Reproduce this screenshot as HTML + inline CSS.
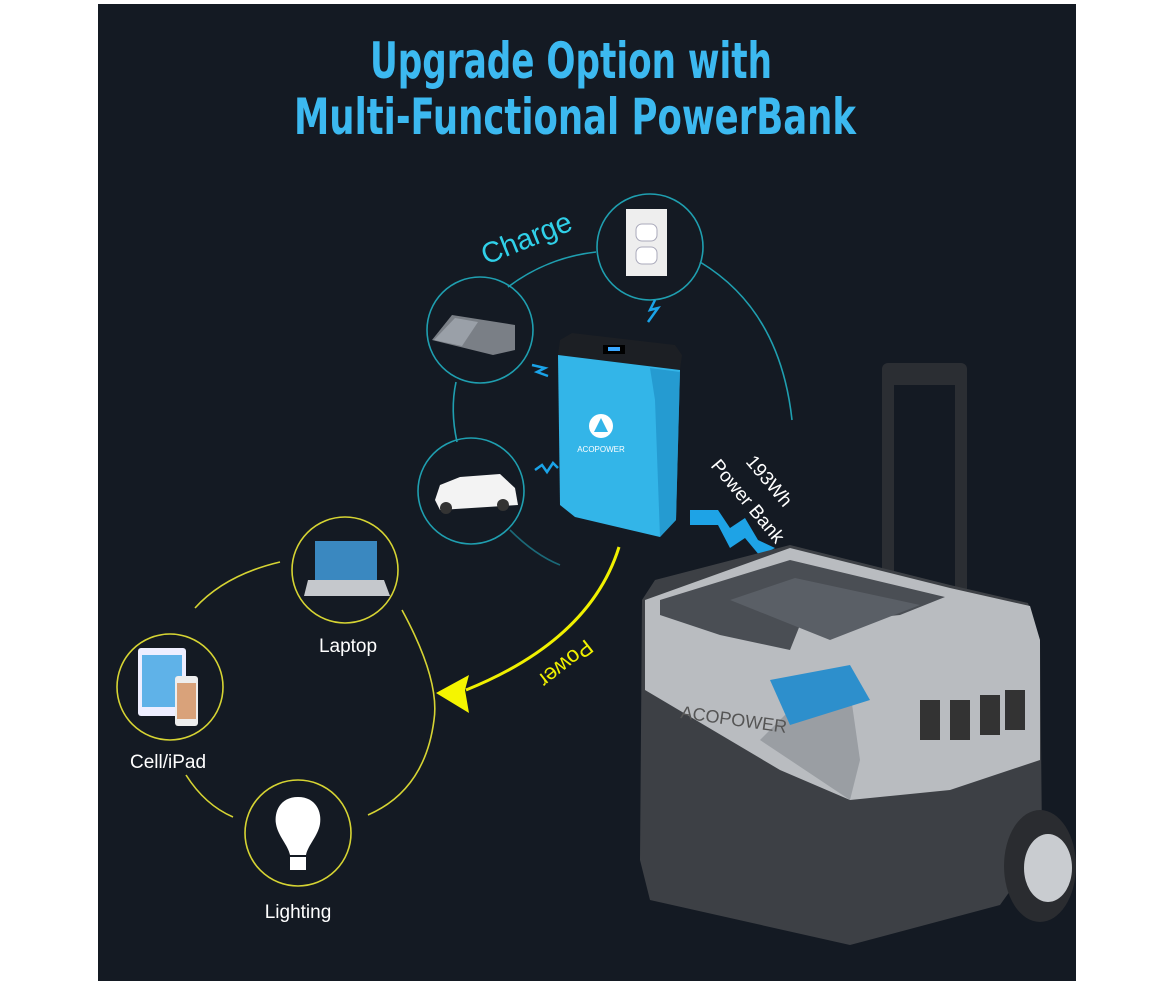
<!DOCTYPE html>
<html><head><meta charset="utf-8"><style>
html,body{margin:0;padding:0;background:#fff;}
svg{display:block}
</style></head><body>
<svg width="1175" height="985" viewBox="0 0 1175 985" xmlns="http://www.w3.org/2000/svg">
<rect x="0" y="0" width="1175" height="985" fill="#fff"/>
<rect x="98" y="4" width="978" height="977" fill="#141a23"/>
<g font-family="'DejaVu Sans Condensed','Liberation Sans Narrow',sans-serif" font-weight="bold" fill="#3cb9f0" text-anchor="middle">
<text x="571" y="78" font-size="50" textLength="402" lengthAdjust="spacingAndGlyphs">Upgrade Option with</text>
<text x="575" y="134" font-size="50" textLength="562" lengthAdjust="spacingAndGlyphs">Multi-Functional PowerBank</text>
</g>
<g fill="none" stroke="#1f9fb0" stroke-width="1.6">
<path d="M508,287 A175,170 0 0 1 596,252"/>
<path d="M700,262 Q780,310 792,420"/>
<path d="M456,382 Q450,410 457,442"/>
<path d="M510,530 Q535,555 560,565" stroke-opacity="0.6"/>
<circle cx="650" cy="247" r="53"/>
<circle cx="480" cy="330" r="53"/>
<circle cx="471" cy="491" r="53"/>
</g>
<text x="0" y="0" transform="translate(486,265) rotate(-22)" font-family="'Liberation Sans',sans-serif" font-size="29" fill="#30d0e8">Charge</text>
<rect x="626" y="209" width="41" height="67" fill="#eeeeee"/>
<rect x="636" y="224" width="21" height="17" rx="6" fill="#fff" stroke="#aab" />
<rect x="636" y="247" width="21" height="17" rx="6" fill="#fff" stroke="#aab"/>
<polygon points="432,340 452,315 515,325 515,350 493,355" fill="#7a7f86"/>
<polygon points="434,340 455,318 478,322 462,346" fill="#9aa0a8"/>
<path d="M435,500 L440,485 L460,477 L500,474 L515,488 L518,505 L440,510 Z" fill="#f3f3f3"/>
<circle cx="446" cy="508" r="6" fill="#333"/><circle cx="503" cy="505" r="6" fill="#333"/>
<g fill="none" stroke="#1aa3e8" stroke-width="2.5">
<path d="M655,300 L650,310 L658,308 L648,322"/>
<path d="M532,365 L545,368 L537,372 L548,376"/>
<path d="M535,470 L542,465 L547,472 L553,463 L558,468"/>
</g>
<polygon points="690,510 718,510 730,528 745,518 758,540 775,548 760,556 745,538 730,548 718,525 690,525" fill="#1ea3e6"/>
<text transform="translate(745,462) rotate(50)" font-family="'Liberation Sans',sans-serif" font-size="19" fill="#fff">193Wh</text>
<text transform="translate(710,466) rotate(50)" font-family="'Liberation Sans',sans-serif" font-size="19" fill="#fff">Power Bank</text>
<polygon points="560,340 572,333 675,345 682,355 680,370 558,355" fill="#1c1f24"/>
<polygon points="558,355 680,370 676,520 660,537 575,517 560,505" fill="#33b5e8"/>
<polygon points="650,368 680,372 676,520 660,537 655,400" fill="#2090c8" opacity="0.7"/>
<rect x="603" y="345" width="22" height="9" fill="#000"/><rect x="608" y="347" width="12" height="4" fill="#39a7ff"/>
<circle cx="601" cy="426" r="12" fill="#fff"/><polygon points="601,418 608,432 594,432" fill="#33b5e8"/>
<text x="601" y="452" text-anchor="middle" font-family="'Liberation Sans',sans-serif" font-size="8" fill="#fff">ACOPOWER</text>
<g fill="none" stroke="#d6d433" stroke-width="1.6">
<circle cx="345" cy="570" r="53"/>
<circle cx="170" cy="687" r="53"/>
<circle cx="298" cy="833" r="53"/>
<path d="M280,562 Q225,575 195,608"/>
<path d="M402,610 Q440,680 434,720 Q425,790 368,815"/>
<path d="M186,775 Q205,805 233,817"/>
</g>
<rect x="315" y="541" width="62" height="39" fill="#3a88c0"/>
<polygon points="308,580 384,580 390,596 304,596" fill="#c5c8cc"/>
<rect x="138" y="648" width="48" height="68" rx="3" fill="#eef" />
<rect x="142" y="655" width="40" height="52" fill="#5fb2e8"/>
<rect x="175" y="676" width="23" height="50" rx="3" fill="#eee"/>
<rect x="177" y="683" width="19" height="36" fill="#d9a27a"/>
<path d="M298,797 C280,797 274,812 276,824 C278,836 288,845 290,855 L306,855 C308,845 318,836 320,824 C322,812 316,797 298,797 Z" fill="#fff"/>
<rect x="290" y="857" width="16" height="13" fill="#fff"/>
<g font-family="'Liberation Sans',sans-serif" font-size="19" fill="#fff" text-anchor="middle">
<text x="348" y="652">Laptop</text>
<text x="168" y="768">Cell/iPad</text>
<text x="298" y="918">Lighting</text>
</g>
<path d="M619,547 Q590,640 466,690" fill="none" stroke="#f0f000" stroke-width="3"/>
<polygon points="436,693 469,675 465,690 469,713" fill="#f5f500"/>
<text transform="translate(566,664) rotate(142)" font-family="'Liberation Sans',sans-serif" font-size="22" fill="#f0f000" text-anchor="middle" dy="8">Power</text>
<rect x="882" y="363" width="85" height="22" rx="6" fill="#2b2e33"/>
<rect x="882" y="370" width="12" height="240" fill="#2b2e33"/>
<rect x="955" y="370" width="12" height="240" fill="#2b2e33"/>
<polygon points="642,600 655,580 790,545 950,585 1028,603 1040,640 1042,840 1025,870 1000,905 850,945 650,900 640,860" fill="#3d4045"/>
<polygon points="645,600 790,548 950,588 1030,606 1040,640 1040,760 950,790 850,800 780,770 645,690" fill="#b9bcc0"/>
<polygon points="660,600 790,560 945,597 900,615 800,625 790,650 720,635 660,615" fill="#4a4e54"/>
<polygon points="730,600 795,578 920,605 830,640 780,620" fill="#5a5f66"/>
<polygon points="760,740 800,700 850,690 860,760 850,800" fill="#9a9ea3"/>
<polygon points="770,680 850,665 870,700 790,725" fill="#2d8fcc"/>
<text x="680" y="718" transform="rotate(8 680 718)" font-family="'Liberation Sans',sans-serif" font-size="18" fill="#555">ACOPOWER</text>
<g fill="#333"><rect x="920" y="700" width="20" height="40"/><rect x="950" y="700" width="20" height="40"/><rect x="980" y="695" width="20" height="40"/><rect x="1005" y="690" width="20" height="40"/></g>
<ellipse cx="1040" cy="866" rx="36" ry="56" fill="#2a2c30"/>
<ellipse cx="1048" cy="868" rx="24" ry="34" fill="#c9ccd0"/>
</svg>
</body></html>
